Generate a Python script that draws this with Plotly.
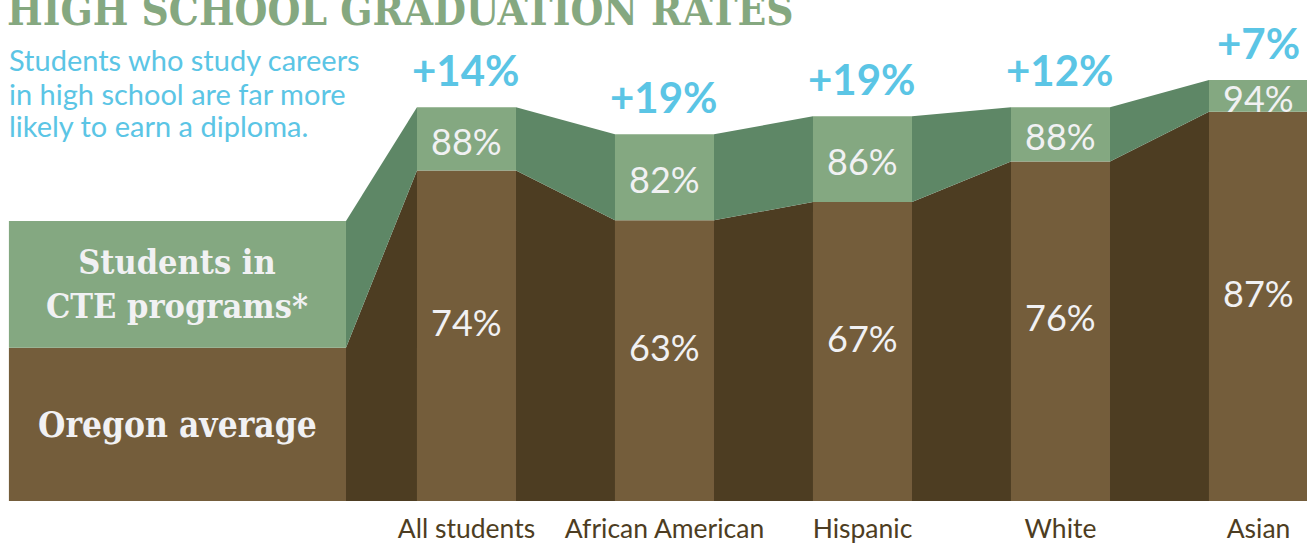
import plotly.graph_objects as go

# ---- data ----
categories = ["All students", "African American", "Hispanic", "White", "Asian"]
oregon_avg = [74, 63, 67, 76, 87]
cte_rate = [88, 82, 86, 88, 94]
title_text = "HIGH SCHOOL GRADUATION RATES"
subtitle_lines = ["Students who study careers", "in high school are far more", "likely to earn a diploma."]
legend_cte = ["Students in", "CTE programs*"]
legend_avg = "Oregon average"
legend_levels = [34.8, 62.8]   # swatch boundary levels (same scale as bars)

# ---- style ----
BROWN = "#745d3b"
DARK_BROWN = "#4d3d22"
GREEN = "#84a881"
DARK_GREEN = "#5e8766"
BLUE = "#5bc5e5"
TITLE_GREEN = "#85a880"
LIGHT = "#f1f1f3"
SLAB = "DejaVu Serif Condensed, DejaVu Serif, serif"
SANS = "Lato, sans-serif"

Y0 = 0.9
Y1 = 111.7
X0, X1 = -2.356, 4.245
BW = 0.5
SW_L, SW_R = -2.311, -0.6086

idx = list(range(len(categories)))
gaps = [c - o for c, o in zip(cte_rate, oregon_avg)]

fig = go.Figure()

def poly(xs, ys, color):
    fig.add_trace(go.Scatter(x=xs + [xs[0]], y=ys + [ys[0]], fill="toself", fillcolor=color,
                             mode="lines", line=dict(width=0, color=color), hoverinfo="skip",
                             showlegend=False))

# connector from legend swatch to first bar
xl, xr = SW_R, idx[0] - BW / 2
poly([xl, xr, xr, xl], [Y0, Y0, oregon_avg[0], legend_levels[0]], DARK_BROWN)
poly([xl, xr, xr, xl], [legend_levels[0], oregon_avg[0], cte_rate[0], legend_levels[1]], DARK_GREEN)

# connectors between bars
for i in range(len(categories) - 1):
    xl, xr = idx[i] + BW / 2, idx[i + 1] - BW / 2
    poly([xl, xr, xr, xl], [Y0, Y0, oregon_avg[i + 1], oregon_avg[i]], DARK_BROWN)
    poly([xl, xr, xr, xl], [oregon_avg[i], oregon_avg[i + 1], cte_rate[i + 1], cte_rate[i]], DARK_GREEN)

fig.add_trace(go.Bar(x=idx, y=oregon_avg, width=BW, marker=dict(color=BROWN, line=dict(width=0)),
                     showlegend=False, hoverinfo="skip"))
fig.add_trace(go.Bar(x=idx, y=gaps, base=oregon_avg, width=BW, marker=dict(color=GREEN, line=dict(width=0)),
                     showlegend=False, hoverinfo="skip"))

# legend swatch
fig.add_shape(type="rect", xref="x", yref="y", x0=SW_L, x1=SW_R, y0=Y0, y1=legend_levels[0],
              fillcolor=BROWN, line=dict(width=0), layer="below")
fig.add_shape(type="rect", xref="x", yref="y", x0=SW_L, x1=SW_R, y0=legend_levels[0], y1=legend_levels[1],
              fillcolor=GREEN, line=dict(width=0), layer="below")

ann = []
cx = (SW_L + SW_R) / 2
ann.append(dict(x=cx, y=(legend_levels[0] + legend_levels[1]) / 2, xref="x", yref="y",
                text="<br>".join(legend_cte), showarrow=False,
                font=dict(family=SLAB, size=34, color=LIGHT, weight="bold")))
ann.append(dict(x=cx, y=(Y0 + legend_levels[0]) / 2, xref="x", yref="y",
                text=legend_avg, showarrow=False,
                font=dict(family=SLAB, size=35, color=LIGHT, weight="bold")))

for i in idx:
    ann.append(dict(x=i, y=(oregon_avg[i] + cte_rate[i]) / 2, xref="x", yref="y", yshift=-2,
                    text=f"{cte_rate[i]}%", showarrow=False,
                    font=dict(family=SANS, size=36, color=LIGHT)))
    ann.append(dict(x=i, y=(oregon_avg[i] + 7) / 2, xref="x", yref="y",
                    text=f"{oregon_avg[i]}%", showarrow=False,
                    font=dict(family=SANS, size=36, color=LIGHT)))
    ann.append(dict(x=i, y=cte_rate[i], xref="x", yref="y", yanchor="bottom", yshift=10,
                    text=f"+{gaps[i]}%", showarrow=False,
                    font=dict(family=SANS, size=42, color=BLUE, weight="bold")))

ann.append(dict(x=0.004, y=1, xref="paper", yref="paper", xanchor="left", yanchor="top", yshift=16,
                text=title_text, showarrow=False,
                font=dict(family=SLAB, size=42, color=TITLE_GREEN, weight="bold")))
for k, (line, yc) in enumerate(zip(subtitle_lines, [65, 101, 136])):
    ann.append(dict(x=0.005, y=1 - yc / 544, xref="paper", yref="paper", xanchor="left", yanchor="middle",
                    yshift=0, text=line, showarrow=False, align="left",
                    font=dict(family=SANS, size=29, color=BLUE)))

fig.update_layout(
    width=1307, height=544,
    margin=dict(l=0, r=0, t=0, b=41),
    paper_bgcolor="white", plot_bgcolor="white",
    barmode="overlay",
    annotations=ann,
    xaxis=dict(range=[X0, X1], tickmode="array", tickvals=idx, ticktext=categories,
               showgrid=False, zeroline=False, showline=False, ticks="", ticklabelstandoff=9,
               tickfont=dict(family=SANS, size=26.5, color=DARK_BROWN)),
    yaxis=dict(range=[Y0, Y1], visible=False, showgrid=False, zeroline=False),
)

fig.write_html("out.html", config={"displayModeBar": False},
               post_script="document.body.style.margin='0';document.body.style.overflow='hidden';")
